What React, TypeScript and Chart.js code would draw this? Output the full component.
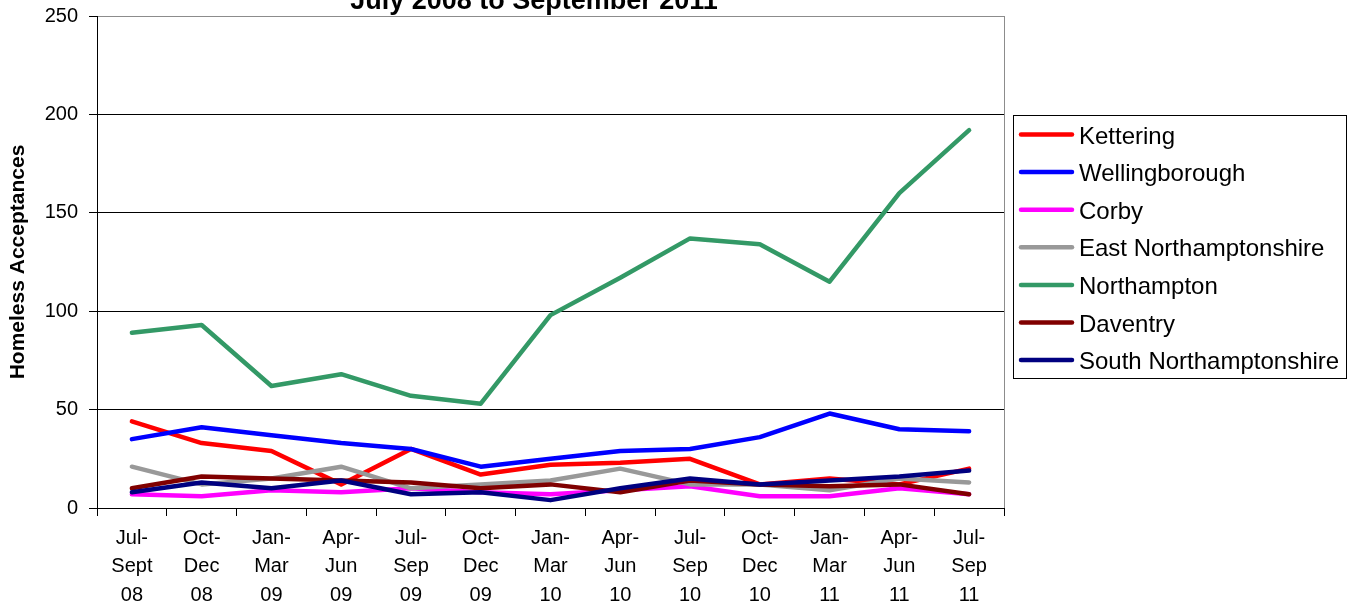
import React, { useEffect, useRef } from 'react';
import { Chart, registerables } from 'chart.js';

Chart.register(...registerables);

const categories: string[][] = [
  ['Jul-', 'Sept', '08'],
  ['Oct-', 'Dec', '08'],
  ['Jan-', 'Mar', '09'],
  ['Apr-', 'Jun', '09'],
  ['Jul-', 'Sep', '09'],
  ['Oct-', 'Dec', '09'],
  ['Jan-', 'Mar', '10'],
  ['Apr-', 'Jun', '10'],
  ['Jul-', 'Sep', '10'],
  ['Oct-', 'Dec', '10'],
  ['Jan-', 'Mar', '11'],
  ['Apr-', 'Jun', '11'],
  ['Jul-', 'Sep', '11'],
];

const kettering = [44, 33, 29, 12, 30, 17, 22, 23, 25, 12, 15, 12, 20];
const wellingborough = [35, 41, 37, 33, 30, 21, 25, 29, 30, 36, 48, 40, 39];
const corby = [7, 6, 9, 8, 10, 8, 7, 9, 11, 6, 6, 10, 7];
const eastNorthamptonshire = [21, 12, 15, 21, 10, 12, 14, 20, 12, 12, 9, 15, 13];
const northampton = [89, 93, 62, 68, 57, 53, 98, 117, 137, 134, 115, 160, 192];
const daventry = [10, 16, 15, 14, 13, 10, 12, 8, 14, 12, 11, 12, 7];
const southNorthamptonshire = [8, 13, 10, 14, 7, 8, 4, 10, 15, 12, 14, 16, 19];

const seriesNames = [
  'Kettering',
  'Wellingborough',
  'Corby',
  'East Northamptonshire',
  'Northampton',
  'Daventry',
  'South Northamptonshire',
];
const seriesValues = [
  kettering,
  wellingborough,
  corby,
  eastNorthamptonshire,
  northampton,
  daventry,
  southNorthamptonshire,
];
const seriesColors = ['#FF0000', '#0000FF', '#FF00FF', '#999999', '#339966', '#800000', '#000080'];

const yMin = 0;
const yMax = 250;
const yStep = 50;
const chartTitle = 'July 2008 to September 2011';
const yAxisTitle = 'Homeless Acceptances';

const FONT = '"Liberation Sans", Arial, Helvetica, sans-serif';

const decorPlugin = {
  id: 'decor',
  afterDraw(chart: any) {
    const { ctx, chartArea } = chart;
    ctx.save();
    // plot area right border (grey)
    ctx.strokeStyle = '#8c8c8c';
    ctx.lineWidth = 1;
    ctx.beginPath();
    ctx.moveTo(Math.round(chartArea.right) + 0.5, chartArea.top);
    ctx.lineTo(Math.round(chartArea.right) + 0.5, chartArea.bottom);
    ctx.stroke();

    // chart title (partially cut at the top of the picture)
    ctx.fillStyle = '#000';
    ctx.font = `bold 27px ${FONT}`;
    ctx.textAlign = 'center';
    ctx.textBaseline = 'alphabetic';
    ctx.fillText(chartTitle, 534, 9);

    // legend box
    const lx = 1013.5;
    const ly = 115.5;
    const lw = 333;
    const lh = 263;
    ctx.strokeStyle = '#000';
    ctx.lineWidth = 1;
    ctx.strokeRect(lx, ly, lw, lh);

    ctx.font = `24px ${FONT}`;
    ctx.textAlign = 'left';
    ctx.textBaseline = 'middle';
    chart.data.datasets.forEach((ds: any, i: number) => {
      const y = 137 + i * 37.6;
      ctx.strokeStyle = ds.borderColor;
      ctx.lineWidth = 4.5;
      ctx.lineCap = 'round';
      ctx.beginPath();
      ctx.moveTo(1021, y - 2.5);
      ctx.lineTo(1072, y - 2.5);
      ctx.stroke();
      ctx.fillStyle = '#000';
      ctx.fillText(ds.label, 1079, y);
    });
    ctx.restore();
  },
};

export default function App() {
  const canvasRef = useRef<HTMLCanvasElement | null>(null);

  useEffect(() => {
    const canvas = canvasRef.current;
    if (!canvas) return;
    const chart = new Chart(canvas, {
      type: 'line',
      data: {
        labels: categories,
        datasets: seriesNames.map((name, i) => ({
          label: name,
          data: seriesValues[i],
          borderColor: seriesColors[i],
          backgroundColor: seriesColors[i],
          borderWidth: 4.5,
          pointRadius: 0,
          pointHoverRadius: 0,
          tension: 0,
          fill: false,
          borderJoinStyle: 'round' as const,
          borderCapStyle: 'round' as const,
          order: seriesNames.length - i,
        })),
      },
      options: {
        responsive: false,
        animation: false,
        devicePixelRatio: 1,
        events: [],
        layout: { padding: { left: 0, top: 16, right: 349, bottom: 0 } },
        plugins: {
          legend: { display: false },
          title: { display: false },
          tooltip: { enabled: false },
        },
        scales: {
          x: {
            type: 'category',
            offset: true,
            afterFit: (scale: any) => {
              scale.height = 97;
              scale.paddingLeft = 0;
              scale.paddingRight = 0;
            },
            grid: {
              display: true,
              offset: true,
              drawOnChartArea: false,
              drawTicks: true,
              tickLength: 8,
              color: '#000',
              tickColor: '#000',
              lineWidth: 1,
            },
            border: { display: true, color: '#000', width: 1 },
            ticks: {
              color: '#000',
              font: { family: FONT, size: 20, lineHeight: 1.43 },
              padding: 8,
              maxRotation: 0,
              minRotation: 0,
              autoSkip: false,
            },
          },
          y: {
            min: yMin,
            max: yMax,
            afterFit: (scale: any) => {
              scale.width = 97;
              scale.paddingTop = 0;
              scale.paddingBottom = 0;
            },
            ticks: {
              stepSize: yStep,
              color: '#000',
              font: { family: FONT, size: 20 },
              padding: 11,
            },
            grid: {
              drawTicks: true,
              tickLength: 8,
              color: (c: any) => (c.tick && c.tick.value === yMax ? '#8c8c8c' : '#000'),
              tickColor: '#000',
              lineWidth: 1,
            },
            border: { display: true, color: '#000', width: 1 },
            title: {
              display: true,
              text: yAxisTitle,
              color: '#000',
              font: { family: FONT, size: 21, weight: 'bold' },
              padding: { top: 6, bottom: 0 },
            },
          },
        },
      },
      plugins: [decorPlugin],
    } as any);
    return () => {
      chart.destroy();
    };
  }, []);

  return (
    <div style={{ position: 'absolute', left: 0, top: 0, width: 1353, height: 605, background: '#fff' }}>
      <canvas ref={canvasRef} width={1353} height={605} style={{ display: 'block', width: 1353, height: 605 }} />
    </div>
  );
}
